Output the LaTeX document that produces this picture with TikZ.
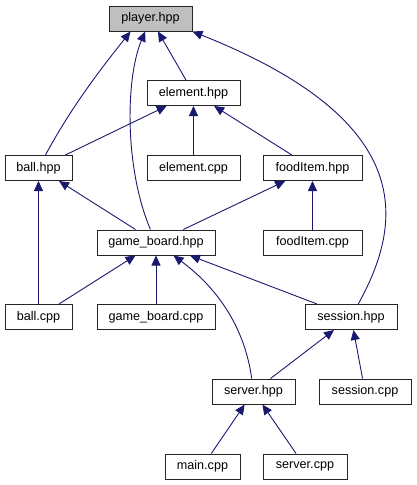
\documentclass[tikz,border=0pt]{standalone}
\usepackage{fontspec}
\setmainfont{Liberation Sans}
\usepackage{xcolor}
\usetikzlibrary{arrows.meta}
\definecolor{edgeblue}{HTML}{191970}
\definecolor{rootgray}{HTML}{BFBFBF}

\begin{document}
\begin{tikzpicture}[
    x=1pt, y=-1pt,
    file/.style={rectangle, draw=black!85, line width=1pt,
                 minimum height=25pt, inner sep=0pt,
                 font=\fontsize{12.6}{14}\selectfont},
    root/.style={file, fill=rootgray},
    arrow/.style={-{Triangle[length=10pt, width=9pt, fill=edgeblue]},
                  draw=edgeblue, line width=0.9pt}
]
\useasboundingbox (0,0) rectangle (417,485);

\node[root, minimum width=83pt]  (player)     at (150.5,18.5) {player.hpp};
\node[file, minimum width=93pt]  (element)    at (193.5,93)   {element.hpp};
\node[file, minimum width=67pt]  (ball)       at (38.5,168)   {ball.hpp};
\node[file, minimum width=93pt]  (elemcpp)    at (193.5,168)  {element.cpp};
\node[file, minimum width=99pt]  (food)       at (312.5,168)  {foodItem.hpp};
\node[file, minimum width=118pt] (board)      at (156,242.5)  {game\_board.hpp};
\node[file, minimum width=99pt]  (foodcpp)    at (312.5,242.5){foodItem.cpp};
\node[file, minimum width=67pt]  (ballcpp)    at (38.5,317)   {ball.cpp};
\node[file, minimum width=118pt] (boardcpp)   at (156,317)    {game\_board.cpp};
\node[file, minimum width=92pt]  (session)    at (351,317)    {session.hpp};
\node[file, minimum width=83pt]  (server)     at (253.5,391.5){server.hpp};
\node[file, minimum width=92pt]  (sessioncpp) at (365,391.5)  {session.cpp};
\node[file, minimum width=75pt]  (maincpp)    at (202.5,466.5){main.cpp};
\node[file, minimum width=84pt]  (servercpp)  at (305,466.5)  {server.cpp};

\draw[arrow] (ball) .. controls (75,100) and (112,55) .. ([xshift=-20pt]player.south);
\draw[arrow] (board) .. controls (125,170) and (125,80) .. (player);
\draw[arrow] (element) -- (player);
\draw[arrow] (session) .. controls (405,220) and (415,120) .. (player.south east);
\draw[arrow] (ball) -- (element);
\draw[arrow] (elemcpp) -- (element);
\draw[arrow] (food) -- (element);
\draw[arrow] (ballcpp) -- (ball);
\draw[arrow] (board) -- (ball);
\draw[arrow] (board) -- (food);
\draw[arrow] (foodcpp) -- (food);
\draw[arrow] (ballcpp) -- (board);
\draw[arrow] (boardcpp) -- (board);
\draw[arrow] (server) .. controls (245,330) and (220,290) .. (board);
\draw[arrow] (session) -- (board);
\draw[arrow] (server) -- (session);
\draw[arrow] (sessioncpp) -- (session);
\draw[arrow] (maincpp) -- (server);
\draw[arrow] (servercpp) -- (server);
\end{tikzpicture}
\end{document}
